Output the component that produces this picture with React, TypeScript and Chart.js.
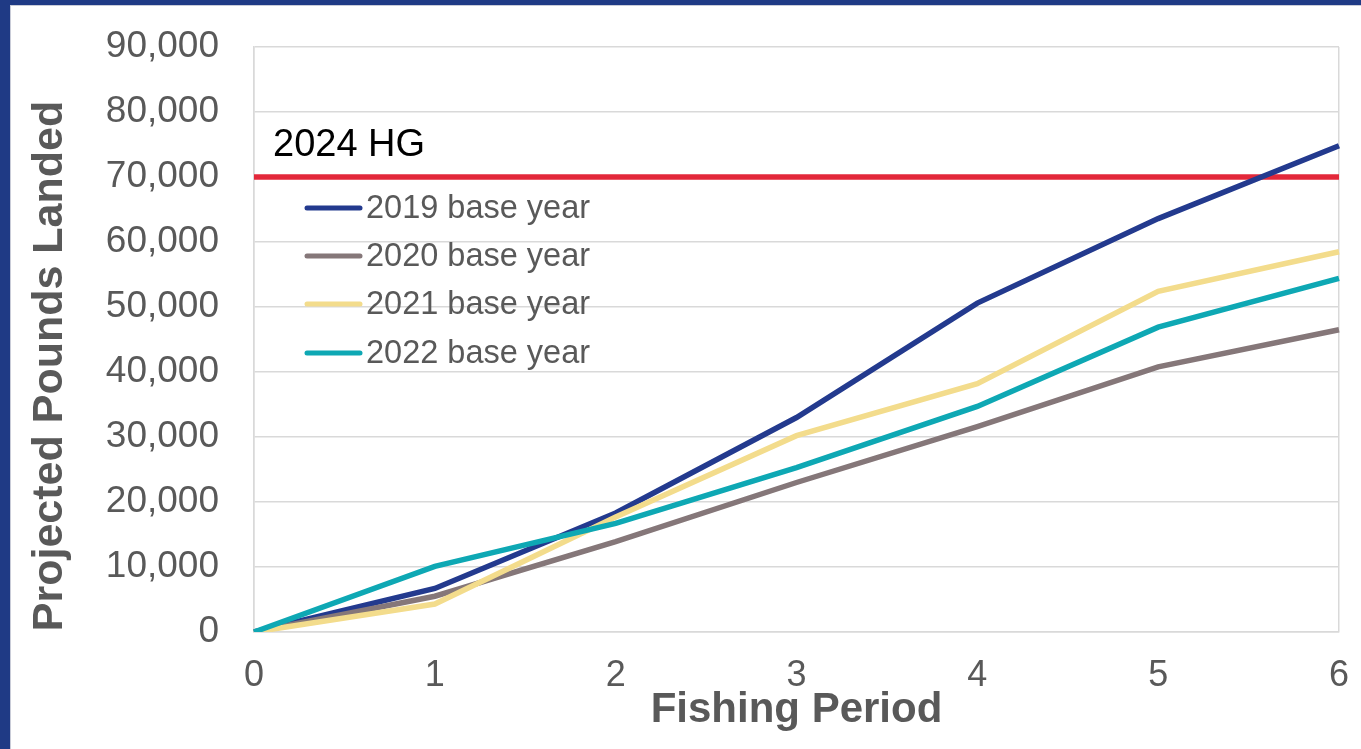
import React, { useEffect, useRef } from "react";
import { Chart, registerables } from "chart.js";

Chart.register(...registerables);

const periods = ["0", "1", "2", "3", "4", "5", "6"];
const seriesLabels = ["2019 base year", "2020 base year", "2021 base year", "2022 base year"];
const base2019 = [0, 6700, 18300, 33000, 50600, 63600, 74800];
const base2020 = [0, 5500, 13900, 23000, 31600, 40800, 46500];
const base2021 = [0, 4300, 17700, 30200, 38200, 52400, 58500];
const base2022 = [0, 10100, 16700, 25300, 34700, 46900, 54400];
const hgLabel = "2024 HG";
const hgValue = 70000;
const hgLine = periods.map(() => hgValue);
const yMin = 0;
const yMax = 90000;
const yStep = 10000;
const xTitle = "Fishing Period";
const yTitle = "Projected Pounds Landed";

const seriesColors = ["#233A8E", "#857779", "#F3DC8C", "#0EA8B4"];
const hgColor = "#E3283A";
const grey = "#595959";
const gridColor = "#d9d9d9";

const W = 1361;
const H = 749;

const overlayPlugin = {
  id: "overlay",
  afterDatasetsDraw(chart: any) {
    const ctx = chart.ctx;
    const area = chart.chartArea;
    ctx.save();
    // HG label
    ctx.fillStyle = "#000000";
    ctx.font = "38px 'Liberation Sans', Arial, sans-serif";
    ctx.textAlign = "left";
    ctx.textBaseline = "middle";
    const yHG = chart.scales.y.getPixelForValue(hgValue);
    ctx.fillText(hgLabel, area.left + 19, yHG - 31);
    // legend
    ctx.font = "32.5px 'Liberation Sans', Arial, sans-serif";
    const rows = [208, 256, 304, 353];
    chart.data.datasets.forEach((ds: any, i: number) => {
      if (i >= seriesLabels.length) return;
      const y = rows[i];
      ctx.strokeStyle = ds.borderColor;
      ctx.lineWidth = 5;
      ctx.lineCap = "round";
      ctx.beginPath();
      ctx.moveTo(area.left + 53, y);
      ctx.lineTo(area.left + 106, y);
      ctx.stroke();
      ctx.fillStyle = grey;
      ctx.fillText(ds.label, area.left + 112, y + 1);
    });
    // y title
    ctx.translate(62, 366);
    ctx.rotate(-Math.PI / 2);
    ctx.fillStyle = grey;
    ctx.font = "bold 43px 'Liberation Sans', Arial, sans-serif";
    ctx.textAlign = "center";
    ctx.textBaseline = "alphabetic";
    ctx.fillText(yTitle, 0, 0);
    ctx.restore();
  },
};

export default function App() {
  const canvasRef = useRef<HTMLCanvasElement | null>(null);

  useEffect(() => {
    const canvas = canvasRef.current;
    if (!canvas) return;
    const values = [base2019, base2020, base2021, base2022];
    const datasets: any[] = values.map((v, i) => ({
      label: seriesLabels[i],
      data: v,
      borderColor: seriesColors[i],
      backgroundColor: seriesColors[i],
      borderWidth: 5.5,
      pointRadius: 0,
      tension: 0,
      fill: false,
      order: 4 - i,
    }));
    datasets.push({
      label: hgLabel,
      data: hgLine,
      borderColor: hgColor,
      backgroundColor: hgColor,
      borderWidth: 5.5,
      pointRadius: 0,
      tension: 0,
      fill: false,
      order: 10,
    });

    const chart = new Chart(canvas, {
      type: "line",
      data: { labels: periods, datasets },
      options: {
        animation: false,
        responsive: false,
        devicePixelRatio: 1,
        layout: { padding: { left: 0, right: 22, top: 47, bottom: 0 } },
        plugins: {
          legend: { display: false },
          tooltip: { enabled: false },
          title: { display: false },
        },
        scales: {
          x: {
            type: "category",
            offset: false,
            grid: {
              drawTicks: false,
              color: (c: any) =>
                c.index === 0 || c.index === periods.length - 1 ? gridColor : "rgba(0,0,0,0)",
              lineWidth: 1.5,
            },
            border: { display: true, color: gridColor, width: 1.5 },
            ticks: {
              color: grey,
              font: { family: "'Liberation Sans', Arial, sans-serif", size: 36 },
              padding: 22,
              maxRotation: 0,
              autoSkip: false,
            },
            title: {
              display: true,
              text: xTitle,
              color: grey,
              font: { family: "'Liberation Sans', Arial, sans-serif", size: 42, weight: "bold" },
              padding: { top: 0, bottom: 13 },
            },
            afterFit: (s: any) => {
              s.height = 117;
              s.paddingLeft = 0;
              s.paddingRight = 0;
              s.paddingTop = 0;
              s.paddingBottom = 0;
            },
          },
          y: {
            min: yMin,
            max: yMax,
            grid: { drawTicks: false, color: gridColor, lineWidth: 1.5 },
            border: { display: true, color: gridColor, width: 1.5 },
            ticks: {
              stepSize: yStep,
              color: grey,
              padding: 35,
              font: { family: "'Liberation Sans', Arial, sans-serif", size: 37 },
              callback: (v: any) => Number(v).toLocaleString("en-US"),
            },
            afterFit: (s: any) => {
              s.width = 254;
              s.paddingLeft = 0;
              s.paddingRight = 0;
              s.paddingTop = 0;
              s.paddingBottom = 0;
            },
          },
        },
      },
      plugins: [overlayPlugin],
    });
    return () => chart.destroy();
  }, []);

  return (
    <div style={{ position: "fixed", left: 0, top: 0, width: W, height: H, background: "#1F3A85", overflow: "hidden" }}>
      <div
        style={{
          position: "absolute",
          left: 10,
          top: 5,
          right: 0,
          bottom: 0,
          background: "#ffffff",
          borderLeft: "1px solid #c9ccd8",
          borderTop: "1px solid #c9ccd8",
        }}
      />
      <canvas
        ref={canvasRef}
        width={W}
        height={H}
        style={{ position: "absolute", left: 0, top: 0, width: W, height: H }}
      />
    </div>
  );
}
